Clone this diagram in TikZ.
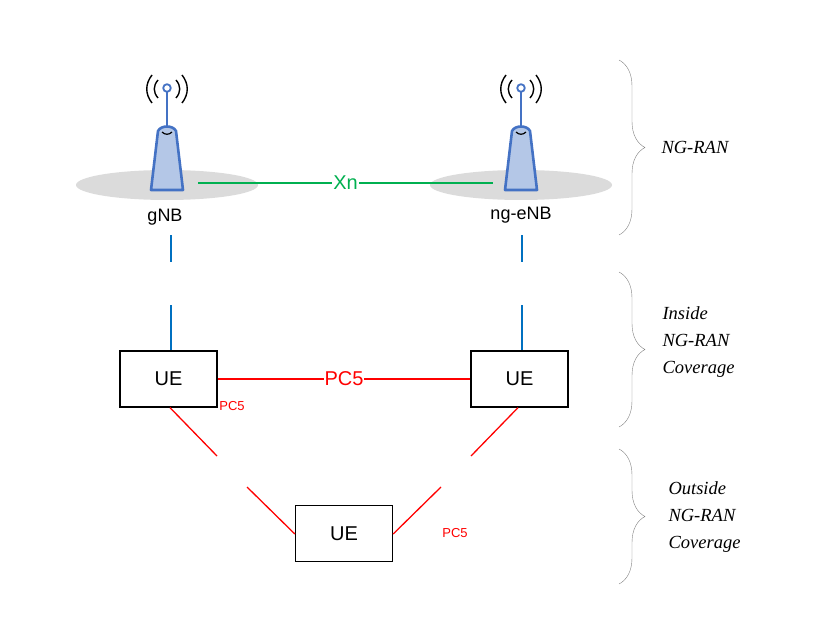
\documentclass[tikz,border=0pt]{standalone}
\usepackage{fontspec}
\setmainfont{Liberation Sans}
\newfontfamily\serifit{Liberation Serif}
\usetikzlibrary{decorations.pathreplacing}
\usetikzlibrary{shapes.geometric}
\definecolor{towerblue}{RGB}{68,114,196}
\definecolor{towerfill}{RGB}{180,199,231}
\definecolor{xngreen}{RGB}{0,176,80}
\definecolor{uublue}{RGB}{0,112,192}
\tikzstyle{ue} = [draw=black, line width=1.3pt, minimum width=97pt, minimum height=56pt, font=\fontsize{20}{20}\selectfont]
\tikzstyle{cell} = [ellipse, fill=gray!28, minimum width=182pt, minimum height=30pt]
\tikzstyle{tower} = [draw=towerblue, line width=2.6pt, fill=towerfill, line join=round]
\tikzstyle{rf} = [draw=red, line width=1.3pt]
\tikzstyle{sdl} = [draw=uublue, line width=1.1pt]
\tikzstyle{zone} = [draw=gray, decorate, decoration={brace, amplitude=26pt, aspect=0.5}]
\tikzstyle{zonetext} = [font=\serifit\itshape\fontsize{18.5}{27}\selectfont, align=left, anchor=west]
\newcommand{\station}[2]{ %
  % tower with mast and waves at x = #1, named #2
  \node[cell] (#2cell) at (#1,185) {};
  \path[tower] (#1-16,190) -- (#1-9,131) .. controls (#1-6,125) and (#1+6,125) .. (#1+9,131) -- (#1+16,190) -- cycle;
  \draw[black, line width=1.2pt] (#1-5,132) .. controls (#1-2,135) and (#1+2,135) .. (#1+5,132);
  \draw[tower, fill=none] (#1,127) -- (#1,92);
  \draw[tower, fill=white, line width=1.8pt] (#1,88) circle (3.8);
  \draw[line width=1.4pt] (#1-9,80) .. controls (#1-14,86) and (#1-14,92) .. (#1-9,98);
  \draw[line width=1.4pt] (#1-15,75) .. controls (#1-22,84) and (#1-22,94) .. (#1-15,103);
  \draw[line width=1.4pt] (#1+9,80) .. controls (#1+14,86) and (#1+14,92) .. (#1+9,98);
  \draw[line width=1.4pt] (#1+15,75) .. controls (#1+22,84) and (#1+22,94) .. (#1+15,103);
}
\begin{document}
\begin{tikzpicture}[x=1pt, y=-1pt]
  \useasboundingbox (0,0) rectangle (818,620);

  \station{167}{gnb}
  \station{521}{ngenb}
  \node[font=\fontsize{18}{18}\selectfont] (gnb) at (165,217) {gNB};
  \node[font=\fontsize{18}{18}\selectfont] (ngenb) at (521,215) {ng-eNB};
  \coordinate (xa) at (198,183);
  \coordinate (xb) at (493,183);
  \draw[draw=xngreen, line width=1.3pt] (xa) -- node[fill=white, inner sep=1pt, text=xngreen, font=\fontsize{20}{20}\selectfont] {Xn} (xb);

  \node[ue] (uel) at (168.5,379) {UE};
  \node[ue] (uer) at (519.5,379) {UE};
  \node[ue] (ueb) at (344,533.5) {UE};

  % Uu links, drawn with a gap
  \draw[sdl] (171,235) -- (171,262);
  \draw[sdl] (171,305) -- (uel.north -| 171,0);
  \draw[sdl] (522,235) -- (522,262);
  \draw[sdl] (522,305) -- (uer.north -| 522,0);

  % PC5 links
  \draw[rf] (uel) -- node[fill=white, inner sep=1pt, text=red, font=\fontsize{20}{20}\selectfont] {PC5} (uer);
  \coordinate (la) at (217,456);
  \coordinate (lb) at (247,487);
  \coordinate (ra) at (471,456);
  \coordinate (rb) at (441,487);
  \draw[rf] (uel.south -| 170,0) -- (la);
  \draw[rf] (lb) -- (ueb.west |- 0,534);
  \draw[rf] (uer.south -| 518,0) -- (ra);
  \draw[rf] (rb) -- (ueb.east |- 0,534);
  \node[text=red, font=\fontsize{13}{13}\selectfont] (pcl) at (232,406) {PC5};
  \node[text=red, font=\fontsize{13}{13}\selectfont] (pcb) at (455,533) {PC5};

  % coverage braces
  \draw[zone] (619,60) -- (619,235);
  \draw[zone] (619,272) -- (619,427);
  \draw[zone] (619,449) -- (619,584);
  \node[zonetext] (ran) at (658,147) {NG-RAN};
  \node[zonetext] (inside) at (659,342) {Inside\\NG-RAN\\Coverage};
  \node[zonetext] (outside) at (665,517) {Outside\\NG-RAN\\Coverage};
\end{tikzpicture}
\end{document}
